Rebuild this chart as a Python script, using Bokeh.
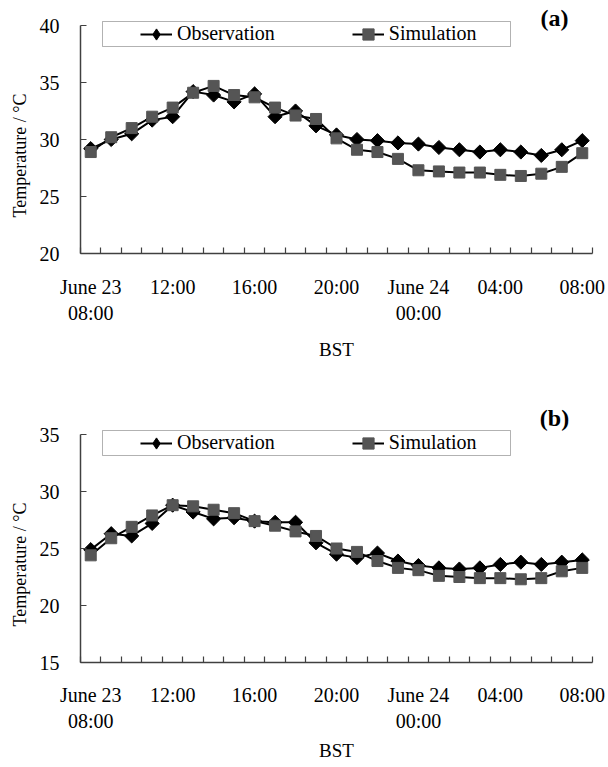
import math
from bokeh.plotting import figure
from bokeh.layouts import column
from bokeh.models import (FixedTicker, Legend, LegendItem, BoxAnnotation, Label, Range1d, Title)
from bokeh.embed import file_html
from bokeh.resources import INLINE

# ---- data ----
hours = list(range(25))  # June 23 08:00 ... June 24 08:00, hourly
tick_positions = [0, 4, 8, 12, 16, 20, 24]
tick_texts = ["June 23\n08:00", "12:00", "16:00", "20:00", "June 24\n00:00", "04:00", "08:00"]

obs_a = [29.2, 30.0, 30.5, 31.7, 32.0, 34.2, 33.9, 33.3, 34.0, 32.0, 32.5, 31.2, 30.4,
         30.0, 29.9, 29.7, 29.6, 29.3, 29.1, 28.9, 29.1, 28.9, 28.6, 29.1, 29.9]
sim_a = [28.9, 30.2, 31.0, 32.0, 32.8, 34.1, 34.7, 33.9, 33.7, 32.8, 32.1, 31.8, 30.1,
         29.1, 28.9, 28.3, 27.3, 27.2, 27.1, 27.1, 26.9, 26.8, 27.0, 27.6, 28.8]
obs_b = [24.9, 26.3, 26.1, 27.2, 28.8, 28.2, 27.6, 27.7, 27.4, 27.3, 27.3, 25.5, 24.5,
         24.2, 24.6, 23.9, 23.5, 23.3, 23.2, 23.3, 23.6, 23.8, 23.6, 23.8, 24.0]
sim_b = [24.4, 25.9, 26.9, 27.9, 28.8, 28.7, 28.4, 28.1, 27.4, 27.0, 26.5, 26.1, 25.0,
         24.7, 23.9, 23.3, 23.1, 22.6, 22.5, 22.4, 22.4, 22.3, 22.4, 23.0, 23.3]
yticks_a = [20, 25, 30, 35, 40]
yticks_b = [15, 20, 25, 30, 35]

FONT = "Liberation Serif"
AXIS_COLOR = "#404040"
SIM_COLOR = "#555555"
PLOT_H = 228  # pixel height of the 20-degree axis span


def make_panel(obs, sim, yticks, tag, extra_top, top_border, bottom_border, tag_y,
               label_standoff, axlabel_standoff):
    span = yticks[-1] - yticks[0]
    upper = yticks[-1] + extra_top * span / PLOT_H
    p = figure(frame_width=512, frame_height=PLOT_H + extra_top,
               x_range=Range1d(-0.5, 24.5), y_range=Range1d(yticks[0], upper),
               output_backend="svg", toolbar_location=None,
               min_border_left=78, min_border_right=14,
               min_border_top=top_border, min_border_bottom=bottom_border)
    p.outline_line_color = None
    p.grid.visible = False
    p.background_fill_color = "white"

    # y axis
    ya = p.yaxis[0]
    ya.bounds = (yticks[0], yticks[-1])
    ya.ticker = FixedTicker(ticks=yticks)
    ya.major_tick_in = 6
    ya.major_tick_out = 0
    ya.minor_tick_in = 0
    ya.minor_tick_out = 0
    ya.axis_line_color = AXIS_COLOR
    ya.axis_line_width = 1.5
    ya.major_tick_line_color = AXIS_COLOR
    ya.major_tick_line_width = 1.2
    ya.major_label_standoff = 21
    ya.major_label_text_font = FONT
    ya.major_label_text_font_size = "20px"
    ya.major_label_text_color = "black"

    p.add_layout(Title(text="Temperature / \u00b0C", align="left",
                       offset=36, standoff=14,
                       text_font=FONT, text_font_size="18px",
                       text_font_style="normal", text_color="black"), "left")

    # x axis (category-like: ticks between hours, labels every 4 h)
    xa = p.xaxis[0]
    xa.ticker = FixedTicker(ticks=tick_positions,
                            minor_ticks=[h - 0.5 for h in hours] + [hours[-1] + 0.5])
    xa.major_label_overrides = {t: s for t, s in zip(tick_positions, tick_texts)}
    xa.major_tick_in = 0
    xa.major_tick_out = 0
    xa.minor_tick_in = 6
    xa.minor_tick_out = 0
    xa.minor_tick_line_color = AXIS_COLOR
    xa.minor_tick_line_width = 1.2
    xa.axis_line_color = AXIS_COLOR
    xa.axis_line_width = 1.5
    xa.major_label_standoff = label_standoff
    xa.major_label_text_font = FONT
    xa.major_label_text_font_size = "20px"
    xa.major_label_text_color = "black"
    xa.axis_label = "BST"
    xa.axis_label_text_font = FONT
    xa.axis_label_text_font_size = "19px"
    xa.axis_label_text_font_style = "normal"
    xa.axis_label_text_color = "black"
    xa.axis_label_standoff = axlabel_standoff

    l1 = p.line(hours, obs, line_color="black", line_width=2)
    # plain diamond marker (also used for the legend, which ignores marker rotation)
    s1_leg = p.scatter(hours, obs, marker="diamond", size=10,
                       fill_color="black", line_color="black")
    p.scatter(hours, obs, marker="square", angle=math.pi / 4, size=10,
              fill_color="black", line_color="black")
    l2 = p.line(hours, sim, line_color="black", line_width=2)
    s2 = p.scatter(hours, sim, marker="square", size=11,
                   fill_color=SIM_COLOR, line_color=SIM_COLOR)

    box = BoxAnnotation(left=22, right=430, bottom=207, top=232,
                        left_units="screen", right_units="screen",
                        bottom_units="screen", top_units="screen",
                        fill_color="white", fill_alpha=1.0,
                        line_color="black", line_width=1)
    p.add_layout(box)

    legend = Legend(items=[LegendItem(label="Observation", renderers=[l1, s1_leg]),
                           LegendItem(label="Simulation", renderers=[l2, s2])],
                    orientation="horizontal", location=(60, 205.5),
                    border_line_color=None, background_fill_alpha=0,
                    padding=0, margin=0, spacing=77,
                    glyph_width=32, glyph_height=28, label_height=28,
                    label_standoff=5, label_text_font=FONT,
                    label_text_font_size="20px", label_text_color="black")
    p.add_layout(legend)

    p.add_layout(Label(x=474, y=tag_y, x_units="screen", y_units="screen",
                       text=tag, text_font=FONT, text_font_size="24px",
                       text_font_style="bold", text_align="center",
                       text_baseline="middle", text_color="black"))
    return p


pa = make_panel(obs_a, sim_a, yticks_a, "(a)", extra_top=17, top_border=8,
                bottom_border=145, tag_y=236, label_standoff=22, axlabel_standoff=12)
pb = make_panel(obs_b, sim_b, yticks_b, "(b)", extra_top=36, top_border=0,
                bottom_border=105, tag_y=245, label_standoff=21, axlabel_standoff=5)

layout = column(pa, pb, spacing=0)
open("out.html", "w").write(file_html(layout, INLINE))
